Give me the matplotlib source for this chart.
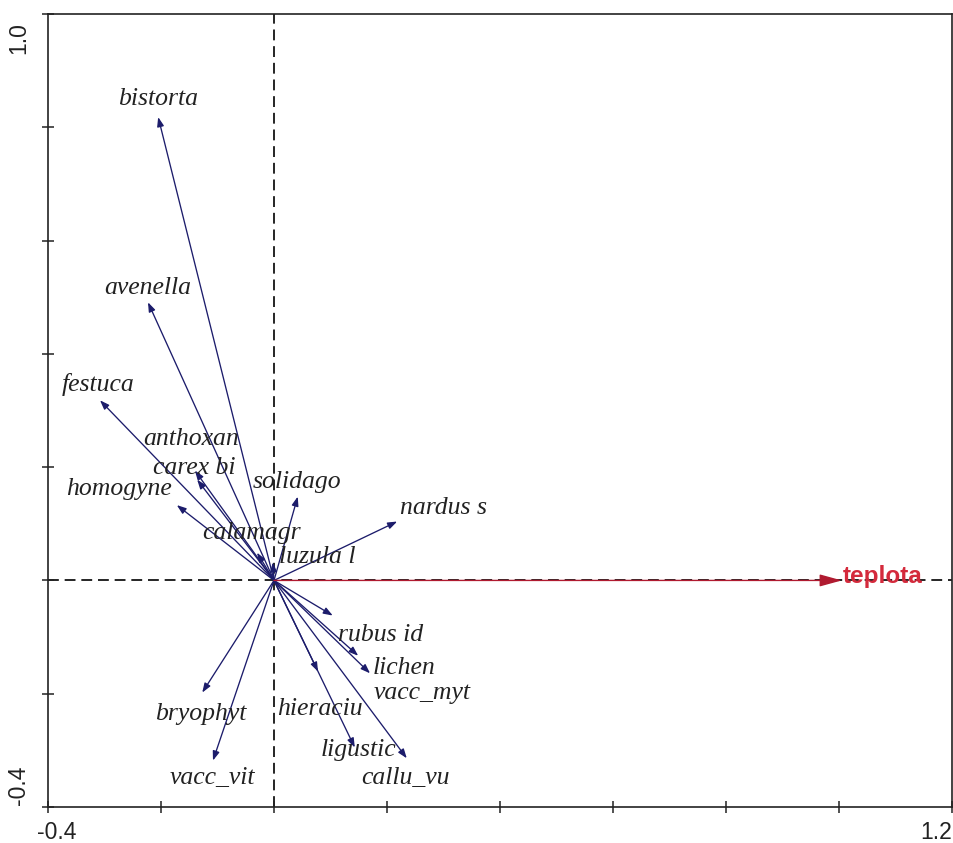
import matplotlib
matplotlib.use("Agg")
import matplotlib.pyplot as plt
import numpy as np

# ---- data ----
species = ["bistorta", "avenella", "festuca", "anthoxan", "carex bi", "homogyne",
           "calamagr", "luzula l", "solidago", "nardus s", "rubus id", "lichen",
           "vacc_myt", "hieraciu", "ligustic", "callu_vu", "bryophyt", "vacc_vit"]
axis1 = [-0.205, -0.223, -0.308, -0.140, -0.136, -0.172,
         -0.030, -0.002, 0.042, 0.218, 0.104, 0.149,
         0.170, 0.078, 0.143, 0.235, -0.127, -0.108]
axis2 = [0.818, 0.491, 0.318, 0.194, 0.178, 0.133,
         0.049, 0.032, 0.148, 0.104, -0.062, -0.133,
         -0.164, -0.161, -0.295, -0.314, -0.198, -0.318]

env_name = "teplota"
env_axis1 = 1.005
env_axis2 = 0.0

x_ticks = [-0.4, -0.2, 0.0, 0.2, 0.4, 0.6, 0.8, 1.0, 1.2]
y_ticks = [-0.4, -0.2, 0.0, 0.2, 0.4, 0.6, 0.8, 1.0]
x_labelled = ["-0.4", "1.2"]
y_labelled = ["1.0", "-0.4"]

# ---- layout (label offsets in pixels relative to arrow tips) ----
label_offsets = {
    "bistorta": (0, 18), "avenella": (0, 14), "festuca": (-2, 16),
    "anthoxan": (-4, 32), "carex bi": (-3, 12), "homogyne": (-58, 16),
    "calamagr": (-6, 20), "luzula l": (44, 5), "solidago": (-1, 15),
    "nardus s": (46, 14), "rubus id": (48, -19), "lichen": (46, -12),
    "vacc_myt": (52, -20), "hieraciu": (2, -37), "ligustic": (4, -2),
    "callu_vu": (-1, -20), "bryophyt": (-2, -21), "vacc_vit": (-1, -17),
}

navy = "#1c1c6b"
red = "#d42a3c"

fig = plt.figure(figsize=(9.54, 8.43), dpi=100)
ax = fig.add_axes([48 / 954, 36 / 843, (952 - 48) / 954, (807 - 14) / 843])
ax.set_xlim(x_ticks[0], x_ticks[-1])
ax.set_ylim(y_ticks[0], y_ticks[-1])

# dashed zero lines
ax.axvline(0, color="black", lw=1.2, dashes=(6.5, 3.5), zorder=1)
ax.axhline(0, color="black", lw=1.2, dashes=(6.5, 3.5), zorder=1)

# species arrows
for name, x, y in zip(species, axis1, axis2):
    ax.annotate("", xy=(x, y), xytext=(0, 0),
                arrowprops=dict(arrowstyle="-|>,head_length=0.55,head_width=0.2",
                                color=navy, lw=0.95,
                                mutation_scale=10, shrinkA=0, shrinkB=0),
                zorder=3)
    dx, dy = label_offsets[name]
    ax.annotate(name, xy=(x, y), xytext=(dx, dy), textcoords="offset pixels",
                ha="center", va="center", fontsize=18.5, style="italic",
                family=["Liberation Serif", "DejaVu Serif"], color="#222222",
                zorder=4)

# environmental arrow
ax.annotate("", xy=(env_axis1, env_axis2), xytext=(0, 0),
            arrowprops=dict(arrowstyle="-|>,head_length=0.62,head_width=0.17",
                            color="#b01a30", lw=1.0,
                            mutation_scale=22, shrinkA=0, shrinkB=0),
            zorder=3)
ax.annotate(env_name, xy=(env_axis1, env_axis2), xytext=(1, 4),
            textcoords="offset pixels", ha="left", va="center",
            fontsize=17.5, fontweight="bold", color=red,
            family=["Liberation Sans", "DejaVu Sans"], zorder=4)

# axes frame and ticks
for sp in ax.spines.values():
    sp.set_linewidth(1.2)
    sp.set_color("#222222")
ax.set_xticks(x_ticks)
ax.set_yticks(y_ticks)
ax.set_xticklabels([])
ax.set_yticklabels([])
ax.tick_params(direction="inout", length=9, width=1.1, color="#222222")

# end labels on the axes
lab_font = dict(fontsize=16.5, family=["Liberation Sans", "DejaVu Sans"], color="#222222")
ax.annotate(x_labelled[0], xy=(x_ticks[0], 0), xycoords=("data", "axes fraction"),
            xytext=(-11, -14), textcoords="offset pixels", ha="left", va="top", **lab_font)
ax.annotate(x_labelled[1], xy=(x_ticks[-1], 0), xycoords=("data", "axes fraction"),
            xytext=(0, -14), textcoords="offset pixels", ha="right", va="top", **lab_font)
ax.annotate(y_labelled[0], xy=(0, y_ticks[-1]), xycoords=("axes fraction", "data"),
            xytext=(-18, -8), textcoords="offset pixels", ha="right", va="top",
            rotation=90, **lab_font)
ax.annotate(y_labelled[1], xy=(0, y_ticks[0]), xycoords=("axes fraction", "data"),
            xytext=(-18, 2), textcoords="offset pixels", ha="right", va="bottom",
            rotation=90, **lab_font)

fig.savefig("out.png", dpi=100, facecolor="white")
